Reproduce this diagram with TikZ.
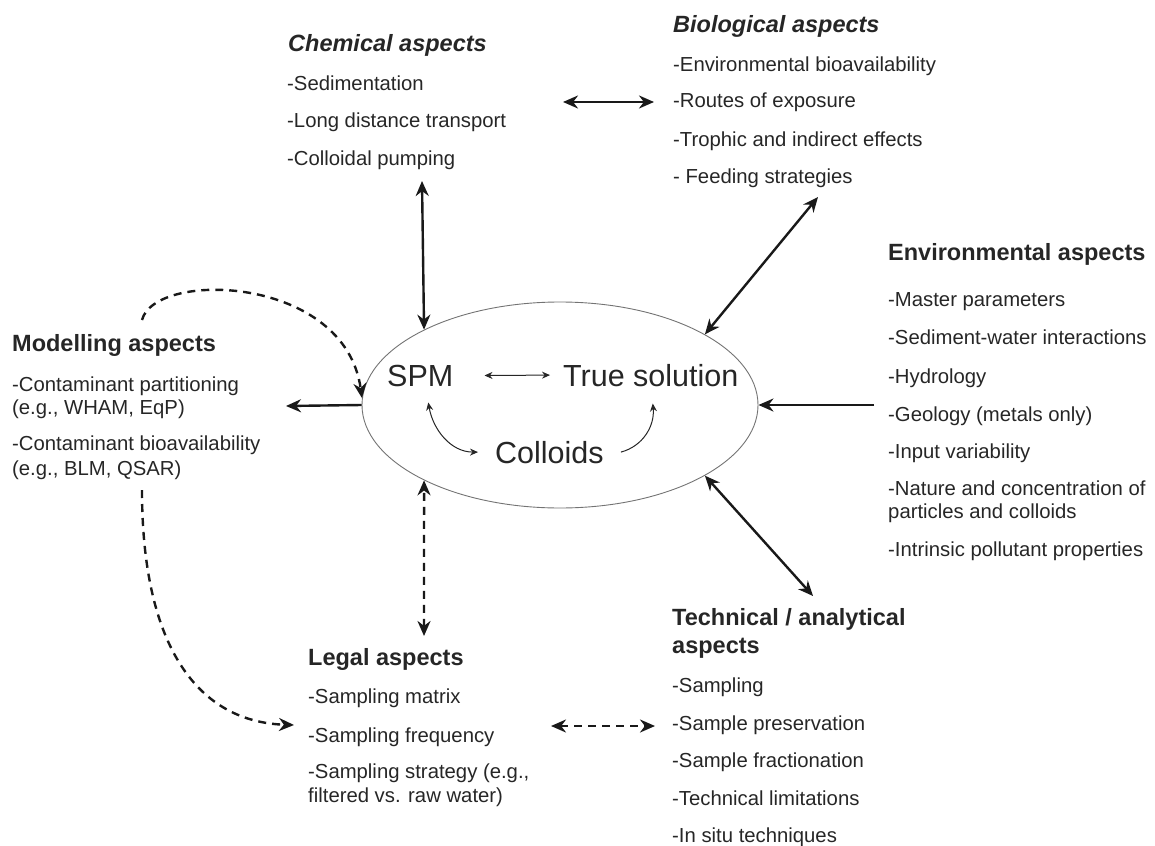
\documentclass[tikz,border=0pt]{standalone}
\usepackage{fontspec}
\setmainfont{Liberation Sans}
\usetikzlibrary{arrows.meta,shapes.geometric}
\begin{document}
\begin{tikzpicture}[x=1pt,y=-1pt,
  body/.style={anchor=base west, inner sep=0pt, font=\fontsize{20.3}{24}\selectfont, text=black!85},
  head/.style={anchor=base west, inner sep=0pt, font=\fontsize{23.5}{28}\selectfont\bfseries, text=black!85},
  headit/.style={anchor=base west, inner sep=0pt, font=\fontsize{23.5}{28}\selectfont\bfseries\itshape, text=black!85},
  big/.style={anchor=base west, inner sep=0pt, font=\fontsize{30.5}{36}\selectfont, text=black!85},
  link/.style={line width=2.4pt, draw=black!90},
  dlink/.style={link, dash pattern=on 8pt off 6pt},
  inner/.style={line width=1pt, draw=black!85},
  >={Stealth[length=15pt,width=13pt]},
  sm/.tip={Stealth[length=8pt,width=7pt]}
]
\useasboundingbox (0,0) rectangle (1155,845);

% central ellipse
\node[draw=black!55, line width=0.9pt, ellipse, minimum width=396pt, minimum height=206pt, inner sep=0pt] (core) at (560,405) {};
\node[big] (spm) at (387,386) {SPM};
\node[big] (true) at (563,386) {True solution};
\node[big] (col) at (495,463) {Colloids};

% Chemical
\node[headit] (chemh) at (288,52) {Chemical aspects};
\node[body] (chem1) at (287,91) {-Sedimentation};
\node[body] (chem2) at (287,128) {-Long distance transport};
\node[body] (chem3) at (287,166) {-Colloidal pumping};

% Biological
\node[headit] (bioh) at (673,33) {Biological aspects};
\node[body] (bio1) at (673,72) {-Environmental bioavailability};
\node[body] (bio2) at (673,108) {-Routes of exposure};
\node[body] (bio3) at (673,147) {-Trophic and indirect effects};
\node[body] (bio4) at (673,183) {- Feeding strategies};

% Modelling
\node[head] (modh) at (12,351) {Modelling aspects};
\node[body] (mod1) at (12,391) {-Contaminant partitioning};
\node[body] (mod1b) at (12,414) {(e.g., WHAM, EqP)};
\node[body] (mod2) at (12,450) {-Contaminant bioavailability};
\node[body] (mod2b) at (12,475) {(e.g., BLM, QSAR)};

% Environmental
\node[head] (envh) at (888,260) {Environmental aspects};
\node[body] (env1) at (888,306) {-Master parameters};
\node[body] (env2) at (888,344) {-Sediment-water interactions};
\node[body] (env3) at (888,383) {-Hydrology};
\node[body] (env4) at (888,421) {-Geology (metals only)};
\node[body] (env5) at (888,458) {-Input variability};
\node[body] (env6) at (888,495) {-Nature and concentration of};
\node[body] (env6b) at (888,518) {particles and colloids};
\node[body] (env7) at (888,556) {-Intrinsic pollutant properties};

% Technical
\node[head] (tech) at (672,625) {Technical / analytical};
\node[head] (techb) at (672,653) {aspects};
\node[body] (tech1) at (672,692) {-Sampling};
\node[body] (tech2) at (672,730) {-Sample preservation};
\node[body] (tech3) at (672,767) {-Sample fractionation};
\node[body] (tech4) at (672,805) {-Technical limitations};
\node[body] (tech5) at (672,842) {-In situ techniques};

% Legal
\node[head] (legh) at (308,665) {Legal aspects};
\node[body] (leg1) at (308,703) {-Sampling matrix};
\node[body] (leg2) at (308,742) {-Sampling frequency};
\node[body] (leg3) at (308,778) {-Sampling strategy (e.g.,};
\node[body] (leg3b) at (308,802) {filtered vs. raw water)};

% free ends of connectors
\coordinate (chemtip) at (422,181);
\coordinate (cbL) at (563,102);
\coordinate (cbR) at (654,102);
\coordinate (biotip) at (818,197);
\coordinate (envstart) at (874,405);
\coordinate (modtip) at (286,406);
\coordinate (mtop) at (142,320);
\coordinate (mbot) at (142,490);
\coordinate (freqtip) at (294,725);
\coordinate (legtip) at (424,636);
\coordinate (ltL) at (551,726);
\coordinate (ltR) at (655,726);
\coordinate (techtip) at (813,596);

% main connectors
\draw[link,<->] (chemtip) -- (core.151.5);
\draw[link,<->] (cbL) -- (cbR);
\draw[link,<->] (biotip) -- (core.26.3);
\draw[link,->] (envstart) -- (core.east);
\draw[link,->] (core.west) -- (modtip);
\draw[link,<->] (techtip) -- (core.-26.6);
\draw[dlink,<->] (legtip) -- (core.209);
\draw[dlink,<->] (ltL) -- (ltR);
\draw[dlink,->] (mtop) .. controls (155,270) and (345,275) .. (core.178.5);
\draw[dlink,->] (mbot) .. controls (142,650) and (200,722) .. (freqtip);

% inner connectors
\draw[inner,sm-sm] ([xshift=31pt]spm.east) -- ([xshift=-13pt]true.west);
\draw[inner,sm-sm] ([xshift=8pt,yshift=-16pt]spm.south) to[out=-80,in=180] ([xshift=-17pt]col.west);
\draw[inner,-sm] ([xshift=17pt]col.east) to[out=15,in=-85] ([xshift=2pt,yshift=-17pt]true.south);
\end{tikzpicture}
\end{document}
